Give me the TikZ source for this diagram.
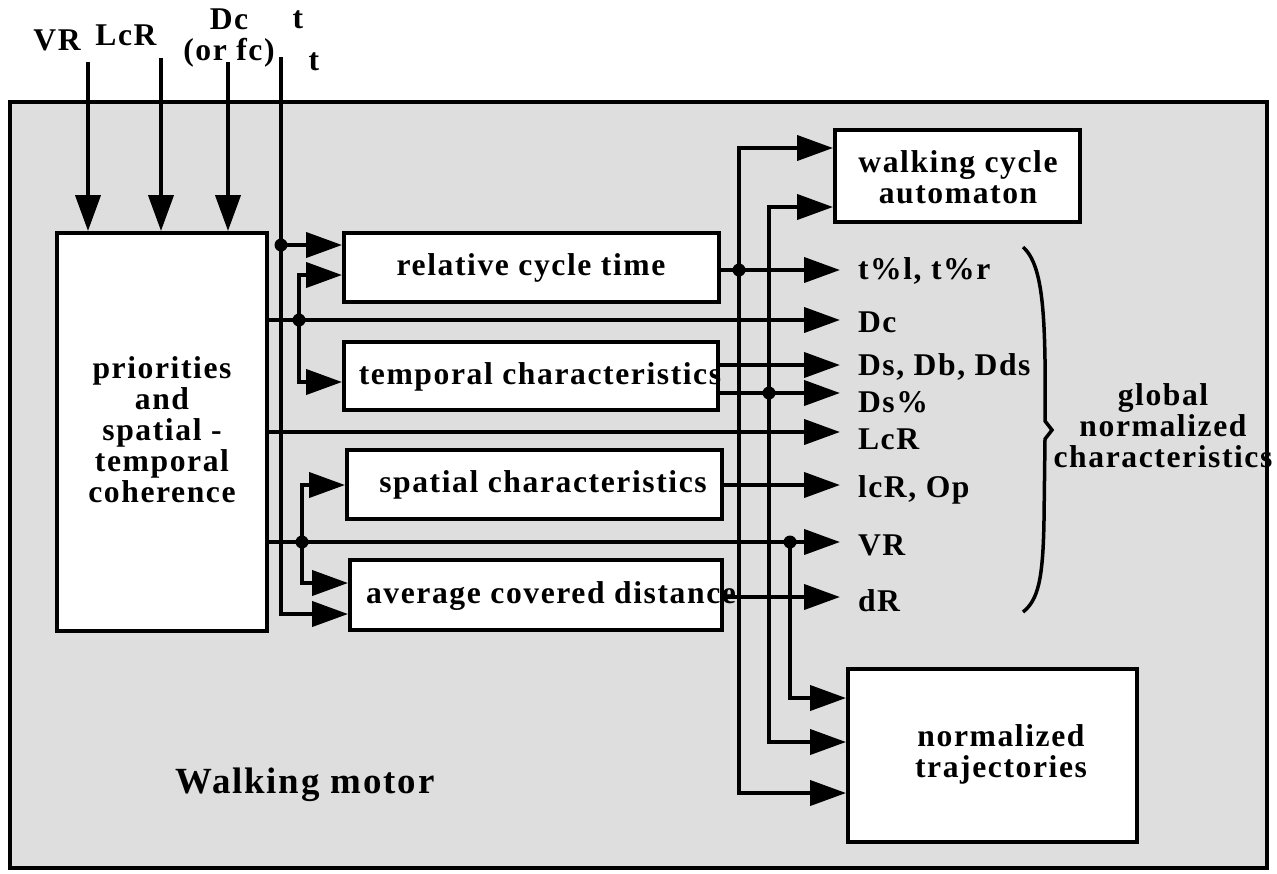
\documentclass[tikz,border=0pt]{standalone}
\usepackage{fontspec}
\setmainfont{Liberation Serif}[BoldFont={Liberation Serif Bold},LetterSpace=5]
\usetikzlibrary{arrows.meta,calc}
\definecolor{motorgray}{RGB}{222,222,222}

\begin{document}
\begin{tikzpicture}[x=0.02cm,y=-0.02cm,line width=0.08cm,
  box/.style={draw,fill=white,line width=0.08cm,inner sep=0pt},
  txt/.style={font=\fontsize{18}{17.6}\selectfont\bfseries,inner sep=0pt,align=center},
  arr/.style={-{Triangle[length=0.72cm,width=0.5cm]}},
  jdot/.style={fill=black}]
\useasboundingbox (0,0) rectangle (1277,873);
% =============================================
% - frame of the walking motor.
\draw[fill=motorgray] (10,102) rectangle (1267,868);
\node[font=\fontsize{21}{24}\selectfont\bfseries,inner sep=0pt] (motor) at (305,785) {Walking motor};
%
% - boxes.
\node[box,minimum width=4.2cm,minimum height=7.96cm] (prio) at (162,432) {};
\node[txt] (prio-t) at (162,430) {priorities\\and\\spatial -\\temporal\\coherence};
\node[box,minimum width=7.5cm,minimum height=1.38cm] (rel) at (531.5,267.5) {};
\node[txt] (rel-t) at (531,268) {relative cycle time};
\node[box,minimum width=7.48cm,minimum height=1.36cm] (temp) at (531,376) {};
\node[txt] (temp-t) at (540,377) {temporal characteristics};
\node[box,minimum width=7.5cm,minimum height=1.38cm] (spat) at (534.5,484.5) {};
\node[txt] (spat-t) at (543,485) {spatial characteristics};
\node[box,minimum width=7.44cm,minimum height=1.4cm] (avg) at (536,595) {};
\node[txt] (avg-t) at (551,596) {average covered distance};
\node[box,minimum width=4.9cm,minimum height=1.84cm] (wca) at (957.5,176) {};
\node[txt] (wca-t) at (958,177) {walking cycle\\automaton};
\node[box,minimum width=5.78cm,minimum height=3.46cm] (traj) at (992.5,755.5) {};
\node[txt] (traj-t) at (1001,754) {normalized\\trajectories};
%
% - inputs on top.
\node[txt] (in-vr) at (57,40) {VR};
\node[txt] (in-lcr) at (126,35) {LcR};
\node[txt] (in-dc) at (229,38) {Dc\\(or fc)};
\node[txt] (in-t1) at (298,20) {t};
\node[txt] (in-t2) at (314,62) {t};
\coordinate (vr-in) at (88,62);
\coordinate (lcr-in) at (161,58);
\coordinate (dc-in) at (228,62);
\draw[arr] (vr-in) -- (vr-in |- prio.north);
\draw[arr] (lcr-in) -- (lcr-in |- prio.north);
\draw[arr] (dc-in) -- (dc-in |- prio.north);
%
% - t line.
\coordinate (t-in) at (281,57);
\coordinate (t-bot) at (281,614);
\coordinate (j-t) at (281,245);
\draw[arr] (t-in) -- (t-bot) -- (t-bot -| avg.west);
\draw[arr] (j-t) -- (j-t -| rel.west);
\fill[jdot] (j-t) circle (0.13cm);
%
% - lines leaving the priorities box.
\coordinate (o-dc) at (840,320);
\coordinate (o-lcr) at (840,432);
\coordinate (o-vr) at (840,542);
\draw[arr] (prio.east |- o-dc) -- (o-dc);
\draw[arr] (prio.east |- o-lcr) -- (o-lcr);
\draw[arr] (prio.east |- o-vr) -- (o-vr);
%
% - branches to the boxes.
\coordinate (b1-top) at (299,275);
\coordinate (b1-bot) at (299,382);
\coordinate (j-dc) at (299,320);
\draw[arr] (j-dc) -- (b1-top) -- (b1-top -| rel.west);
\draw[arr] (j-dc) -- (b1-bot) -- (b1-bot -| temp.west);
\fill[jdot] (j-dc) circle (0.13cm);
\coordinate (b2-top) at (302,485);
\coordinate (b2-bot) at (302,583);
\coordinate (j-vr) at (302,542);
\draw[arr] (j-vr) -- (b2-top) -- (b2-top -| spat.west);
\draw[arr] (j-vr) -- (b2-bot) -- (b2-bot -| avg.west);
\fill[jdot] (j-vr) circle (0.13cm);
%
% - outputs of the boxes.
\coordinate (o-tl) at (840,270);
\coordinate (o-ds) at (840,365);
\coordinate (o-dsp) at (840,393);
\coordinate (o-lc) at (840,485);
\coordinate (o-dr) at (840,597);
\draw[arr] (rel.east |- o-tl) -- (o-tl);
\draw[arr] (temp.east |- o-ds) -- (o-ds);
\draw[arr] (temp.east |- o-dsp) -- (o-dsp);
\draw[arr] (spat.east |- o-lc) -- (o-lc);
\draw[arr] (avg.east |- o-dr) -- (o-dr);
%
% - labels of the outputs.
\node[txt,anchor=west] (l-tl) at (856,271) {t\%l, t\%r};
\node[txt,anchor=west] (l-dc) at (856,322) {Dc};
\node[txt,anchor=west] (l-ds) at (856,367) {Ds, Db, Dds};
\node[txt,anchor=west] (l-dsp) at (856,402) {Ds\%};
\node[txt,anchor=west] (l-lcr) at (856,439) {LcR};
\node[txt,anchor=west] (l-lc) at (856,490) {lcR, Op};
\node[txt,anchor=west] (l-vr) at (856,545) {VR};
\node[txt,anchor=west] (l-dr) at (856,601) {dR};
%
% - buses to the automaton and the trajectories.
\coordinate (bus1-top) at (739,148);
\coordinate (bus1-bot) at (739,793);
\coordinate (j-tl) at (739,270);
\draw[arr] (bus1-bot) -- (bus1-top) -- (bus1-top -| wca.west);
\draw[arr] (bus1-top) -- (bus1-bot) -- (bus1-bot -| traj.west);
\fill[jdot] (j-tl) circle (0.13cm);
\coordinate (bus2-top) at (769,207);
\coordinate (bus2-bot) at (769,742);
\coordinate (j-dsp) at (769,393);
\draw[arr] (bus2-bot) -- (bus2-top) -- (bus2-top -| wca.west);
\draw[arr] (bus2-top) -- (bus2-bot) -- (bus2-bot -| traj.west);
\fill[jdot] (j-dsp) circle (0.13cm);
\coordinate (bus3-bot) at (790,698);
\coordinate (j-v) at (790,542);
\draw[arr] (j-v) -- (bus3-bot) -- (bus3-bot -| traj.west);
\fill[jdot] (j-v) circle (0.13cm);
%
% - brace.
\draw[line width=0.07cm] (1023,247) .. controls (1040,262) and (1044,300) .. (1045,360)
  -- (1045,421) -- (1052,430) -- (1045,439) -- (1044,520)
  .. controls (1043,580) and (1038,600) .. (1023,612);
\node[txt] (glob) at (1163,426) {global\\normalized\\characteristics};
% =============================================
\end{tikzpicture}
\end{document}
